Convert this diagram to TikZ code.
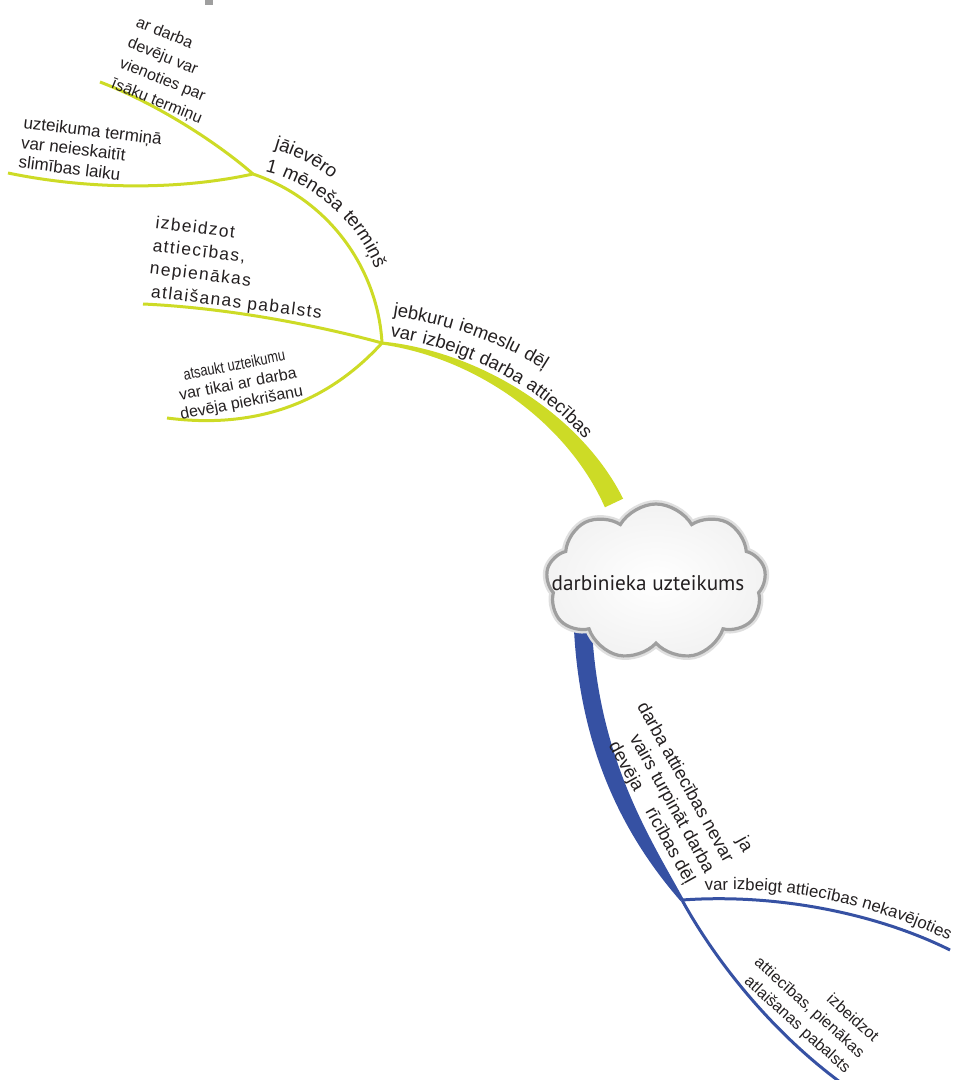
\documentclass[tikz,border=0pt]{standalone}
\usepackage{fontspec}
\setmainfont{Liberation Sans}
\newfontfamily\cloudfont{PT Sans}
\newfontfamily\widefont[LetterSpace=8]{Liberation Sans}
\usetikzlibrary{shapes.symbols,decorations.text}

\definecolor{branchlime}{RGB}{205,219,38}
\definecolor{branchblue}{RGB}{54,81,163}
\definecolor{ink}{RGB}{35,31,32}

\newcommand{\branchfont}{\widefont\fontsize{9.2}{11}\selectfont}
\newcommand{\termfont}{\widefont\fontsize{9.4}{11}\selectfont}
\newcommand{\sidefont}{\fontsize{8.4}{10}\selectfont}

\tikzset{
  limeline/.style={draw=branchlime, line width=1.5pt},
  blueline/.style={draw=branchblue, line width=1.5pt},
  leaftext/.style={inner sep=0pt, text=ink, font=\fontsize{8}{11}\selectfont},
  cloudshape/.style={cloud, cloud puffs=9, cloud puff arc=120, cloud ignores aspect,
    minimum width=110pt, minimum height=78pt},
  pathtext/.style={decorate, decoration={text along path, text align=left,
    text color=ink, text={#1}}},
}

\begin{document}
\begin{tikzpicture}[x=0.5pt, y=-0.5pt]
\useasboundingbox (0,0) rectangle (960,1080);
\fill[gray!75] (205,0) rectangle (213,5);

% junctions and free ends
\coordinate (J1) at (382,343);
\coordinate (J2) at (253,174);
\coordinate (J3) at (682,900);
\coordinate (E1) at (100,82);
\coordinate (E2) at (8,173);
\coordinate (E3) at (143,304);
\coordinate (E4) at (167,418);
\coordinate (E5) at (950,950);
\coordinate (E6) at (840,1082);

% tapered main branches
\fill[branchlime] (381.8,344.5) .. controls (477.7,358.3) and (567.7,423.4) .. (604.9,507.3)
  -- (623.1,498.7) .. controls (582.3,416.6) and (482.3,351.7) .. (382.2,341.5) -- cycle;
\fill[branchblue] (574,630) .. controls (581,762) and (632,845) .. (680.5,901)
  -- (683.5,899) .. controls (648,835) and (599,758) .. (592,630) -- cycle;

\draw[limeline] (J1) .. controls (378,270) and (330,200) .. (J2);
\draw[limeline] (J2) .. controls (220,145) and (160,105) .. (E1);
\draw[limeline] (J2) .. controls (180,190) and (90,190) .. (E2);
\draw[limeline] (J1) .. controls (320,326) and (230,308) .. (E3);
\draw[limeline] (J1) .. controls (330,400) and (260,430) .. (E4);
\draw[blueline] (J3) .. controls (780,893) and (880,915) .. (E5);
\draw[blueline] (J3) .. controls (715,960) and (770,1030) .. (E6);

% central topic
\node[cloudshape, draw=gray!25, line width=4pt] (glow) at (656,582) {};
\node[cloudshape, draw=gray!75, line width=1.6pt, inner color=white, outer color=gray!10] (cloud) at (656,582) {};
\node[inner sep=0pt, text=ink, font=\cloudfont\fontsize{10.6}{13}\selectfont] (topic) at (648,583) {darbinieka uzteikums};

% texts bent along the branches
\path[pathtext={|\branchfont|jebkuru iemeslu dēļ}] (393,316) .. controls (470,328) and (535,355) .. (590,405);
\path[pathtext={|\branchfont|var izbeigt darba attiecības}] (390,337) .. controls (480,352) and (560,395) .. (612,475);
\path[pathtext={|\termfont|jāievēro}] (274,149) .. controls (330,165) and (385,215) .. (405,300);
\path[pathtext={|\termfont|1 mēneša termiņš}] (265,172) .. controls (320,185) and (370,230) .. (385,300);
\path[pathtext={|\sidefont|var izbeigt attiecības nekavējoties}] (705,891) .. controls (792,885) and (880,906) .. (960,946);

% leaf texts
\node[leaftext, rotate=-22, anchor=west, align=left] (shorter) at (124,53)
  {ar darba\\devēju var\\vienoties par\\īsāku termiņu};
\node[leaftext, rotate=-7, anchor=west, align=left, font=\fontsize{8.5}{10}\selectfont] (sick) at (21,142)
  {uzteikuma termiņā\\var neieskaitīt\\slimības laiku};
\node[leaftext, rotate=-7, anchor=west, align=left, font=\widefont\fontsize{8.7}{11.5}\selectfont] (nopay) at (151,258)
  {izbeidzot\\attiecības,\\nepienākas\\\hspace{2pt}atlaišanas pabalsts};
\node[leaftext, rotate=11, align=center, font=\fontsize{8}{9.5}\selectfont] (recall) at (238,385)
  {\scalebox{0.8}[1]{atsaukt uzteikumu}\\var tikai ar darba\\devēja piekrišanu};
\node[leaftext, rotate=-61, align=right, font=\fontsize{9.1}{11}\selectfont] (cause) at (675,788)
  {ja\\darba attiecības nevar\\vairs turpināt darba\\devēja\hspace{1.2em}rīcības dēļ};
\node[leaftext, rotate=-42, align=right, font=\fontsize{8}{10.5}\selectfont] (pay) at (809,1008)
  {izbeidzot\\attiecības, pienākas\\atlaišanas pabalsts};
\end{tikzpicture}
\end{document}
